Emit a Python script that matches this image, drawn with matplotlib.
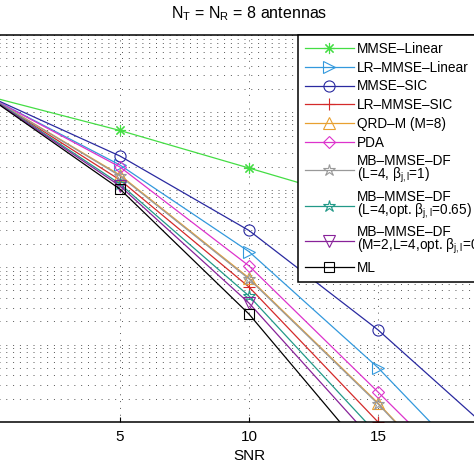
import numpy as np
import matplotlib
matplotlib.use("Agg")
import matplotlib.pyplot as plt

plt.rcParams['font.family'] = ['Liberation Sans', 'DejaVu Sans']
plt.rcParams['mathtext.fontset'] = 'custom'
plt.rcParams['mathtext.rm'] = 'Liberation Sans'
plt.rcParams['mathtext.it'] = 'Liberation Sans'

# SNR points (dB)
snr = [0, 5, 10, 15, 20]

# BER values
ber_mmse_lin = [0.158, 0.0584, 0.0191, 0.00618, 0.0020]
ber_lr_mmse_lin = [0.153, 0.0209, 0.00159, 5.03e-5, 9.3e-7]
ber_mmse_sic = [0.156, 0.0273, 0.00298, 1.55e-4, 5.0e-6]
ber_lr_mmse_sic = [0.153, 0.0134, 5.55e-4, 1.0e-5, 1.9e-7]
ber_qrdm = [0.153, 0.0155, 7.25e-4, 1.76e-5, 3.0e-7]
ber_pda = [0.153, 0.0197, 1.04e-3, 2.44e-5, 5.4e-7]
ber_mb1 = [0.153, 0.0151, 7.04e-4, 1.71e-5, 3.0e-7]
ber_mb2 = [0.153, 0.0119, 4.25e-4, 6.8e-6, 1.1e-7]
ber_mb3 = [0.151, 0.0112, 3.44e-4, 4.9e-6, 6.8e-8]
ber_ml = [0.149, 0.0102, 2.48e-4, 2.6e-6, 2.8e-8]

labels = ['MMSE\u2013Linear', 'LR\u2013MMSE\u2013Linear', 'MMSE\u2013SIC',
          'LR\u2013MMSE\u2013SIC', 'QRD\u2013M (M=8)', 'PDA',
          'MB\u2013MMSE\u2013DF\n(L=4, $\\beta_{j,l}$=1)',
          'MB\u2013MMSE\u2013DF\n(L=4,opt. $\\beta_{j,l}$=0.65)',
          'MB\u2013MMSE\u2013DF\n(M=2,L=4,opt. $\\beta_{j,l}$=0.65)',
          'ML']
series = [ber_mmse_lin, ber_lr_mmse_lin, ber_mmse_sic, ber_lr_mmse_sic, ber_qrdm,
          ber_pda, ber_mb1, ber_mb2, ber_mb3, ber_ml]
colors = ['#44dd44', '#3399dd', '#2a2aa0', '#d42a2a', '#e8a030',
          '#dd33cc', '#999999', '#229988', '#882299', '#000000']
markers = [(8, 2, 0), '>', 'o', '+', '^', 'D', '*', '*', 'v', 's']
msizes = [8, 8, 8, 9, 8, 6.5, 9, 9, 8, 6.5]

fig = plt.figure(figsize=(4.74, 4.74), dpi=100)
ax = fig.add_axes([-9 / 474, 52 / 474, 516 / 474, 387 / 474])

for y, lab, c, m, ms in zip(series, labels, colors, markers, msizes):
    ax.semilogy(snr, y, color=c, marker=m, markersize=ms, markerfacecolor='none',
                markeredgecolor=c, markeredgewidth=0.8, linewidth=0.9, label=lab)

ax.set_xlim(0, 20)
ax.set_ylim(1e-5, 1)
ax.set_xticks([5, 10, 15])
ax.set_xticklabels(['5', '10', '15'])
ax.tick_params(direction='in', labelsize=11, width=0.8, pad=6)
ax.tick_params(which='minor', direction='in')
ax.yaxis.set_ticklabels([])
ax.yaxis.set_ticklabels([], minor=True)
ax.grid(True, which='major', axis='x', color='#555555', linestyle=(0, (1, 6)), linewidth=0.7)
ax.grid(True, which='both', axis='y', color='#555555', linestyle=(0, (1, 6)), linewidth=0.7)
for s in ax.spines.values():
    s.set_linewidth(1.1)

ax.set_xlabel('SNR', fontsize=11, labelpad=3)
ax.set_title('N$_T$ = N$_R$ = 8 antennas', fontsize=11.5, pad=12)

leg = ax.legend(loc='upper left', bbox_to_anchor=(307 / 516, 1.0), borderaxespad=0,
                fontsize=9.8, handlelength=3.6, handletextpad=0.25, labelspacing=0.35,
                borderpad=0.5, fancybox=False, framealpha=1)
leg.get_frame().set_edgecolor('black')
leg.get_frame().set_linewidth(1.1)
for t in leg.get_texts():
    t.set_linespacing(0.8)

fig.savefig('out.png', dpi=100)
